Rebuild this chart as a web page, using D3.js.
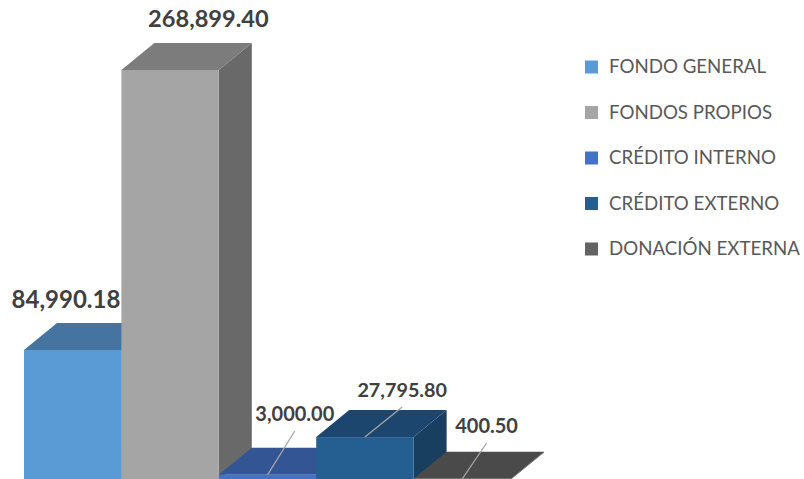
<!DOCTYPE html>
<html>
<head>
<meta charset="utf-8">
<script src="https://cdnjs.cloudflare.com/ajax/libs/d3/7.8.5/d3.min.js"></script>
<style>
  body { margin: 0; background: #fff; }
  svg { display: block; }
  text { font-family: Lato, "Open Sans", sans-serif; }
</style>
</head>
<body>
<svg></svg>
<script>
var categories = ['FONDO GENERAL', 'FONDOS PROPIOS', 'CRÉDITO INTERNO', 'CRÉDITO EXTERNO', 'DONACIÓN EXTERNA'];
var values = [84990.18, 268899.40, 3000.00, 27795.80, 400.50];

/* face colours, same order as categories */
var frontColors = ['#5b9bd5', '#a5a5a5', '#4472c4', '#255e91', '#636363'];
var topColors = ['#44749f', '#7c7c7c', '#335593', '#1c466d', '#4a4a4a'];
var sideColors = ['#3d6a91', '#696969', '#2e4d86', '#183e60', '#434343'];

/* label placement relative to the bar, hand fitted */
var labelDx = [42, 87, 76, 86, 73];
var labelBaseline = [308, 27, 421, 397, 433];
var labelSize = [24, 23.6, 20, 19.8, 20];
var hasLeader = [false, false, true, true, true];

var svgWidth = 804;
var svgHeight = 479;
var depthX = 33;
var depthY = -27;

var svg = d3.select('svg')
  .attr('width', svgWidth)
  .attr('height', svgHeight);

var x = d3.scaleBand().domain(categories).range([24, 511]).padding(0);
var y = d3.scaleLinear().domain([0, 268899.40]).range([479.4, 70]);
var base = y(0);

var bars = categories.map((name, i) => ({name: name, value: values[i], i: i}));

/* Draw one 3d column: side, top, then front */
var barG = svg.selectAll('g.bar')
  .data(bars)
  .enter()
  .append('g')
  .attr('class', 'bar');

barG.append('polygon')
  .attr('points', d => {
    var r = x(d.name) + x.bandwidth();
    return [[r, y(d.value)], [r + depthX, y(d.value) + depthY], [r + depthX, base + depthY], [r, base]].join(' ');
  })
  .style('fill', d => sideColors[d.i]);

barG.append('polygon')
  .attr('points', d => {
    var l = x(d.name), r = l + x.bandwidth(), t = y(d.value);
    return [[l, t], [l + depthX, t + depthY], [r + depthX, t + depthY], [r, t]].join(' ');
  })
  .style('fill', d => topColors[d.i]);

barG.append('rect')
  .attr('x', d => x(d.name))
  .attr('y', d => y(d.value))
  .attr('width', x.bandwidth())
  .attr('height', d => Math.max(0, base - y(d.value)))
  .style('fill', d => frontColors[d.i]);

/* Leader lines for the short columns */
svg.selectAll('line.leader')
  .data(bars.filter(d => hasLeader[d.i]))
  .enter()
  .append('line')
  .attr('class', 'leader')
  .attr('x1', d => x(d.name) + x.bandwidth() / 2)
  .attr('y1', d => y(d.value))
  .attr('x2', d => x(d.name) + labelDx[d.i])
  .attr('y2', d => labelBaseline[d.i] + 10)
  .style('stroke', '#a6a6a6')
  .style('stroke-width', 1.3);

svg.selectAll('text.value')
  .data(bars)
  .enter()
  .append('text')
  .attr('class', 'value')
  .attr('x', d => x(d.name) + labelDx[d.i])
  .attr('y', d => labelBaseline[d.i])
  .attr('text-anchor', 'middle')
  .style('font-size', d => labelSize[d.i] + 'px')
  .style('font-weight', 700)
  .style('fill', '#404040')
  .text(d => d3.format(',.2f')(d.value));

/* Legend */
var legendY = d3.scalePoint().domain(categories).range([67, 249]);

var legend = svg.selectAll('g.legend')
  .data(bars)
  .enter()
  .append('g')
  .attr('class', 'legend')
  .attr('transform', d => `translate(585,${legendY(d.name)})`);

legend.append('rect')
  .attr('x', 0)
  .attr('y', -6.5)
  .attr('width', 13)
  .attr('height', 13)
  .style('fill', d => frontColors[d.i]);

legend.append('text')
  .attr('x', 24)
  .attr('y', 6)
  .style('font-size', '18.7px')
  .style('fill', '#595959')
  .text(d => d.name);
</script>
</body>
</html>
